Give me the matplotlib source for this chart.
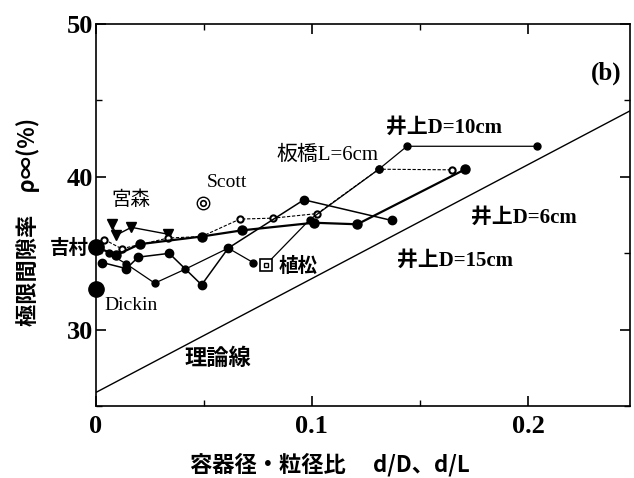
import matplotlib
matplotlib.use("Agg")
import matplotlib.pyplot as plt
from matplotlib.ticker import MultipleLocator

# ---- data ----
theory_x = [0.0, 0.247]
theory_y = [25.9, 44.3]

miyamori_x = [0.0073, 0.0096, 0.0165, 0.0335]
miyamori_y = [36.9, 36.2, 36.7, 36.25]

itabashi_x = [0.004, 0.012, 0.0335, 0.049, 0.0667, 0.082, 0.1025, 0.131, 0.165]
itabashi_y = [35.9, 35.3, 36.0, 36.1, 37.24, 37.3, 37.6, 40.5, 40.46]

inoue6_x = [0.0, 0.0096, 0.0204, 0.049, 0.0675, 0.101, 0.121, 0.171]
inoue6_y = [35.4, 34.9, 35.6, 36.1, 36.5, 37.0, 36.9, 40.5]

inoue15_x = [0.003, 0.0142, 0.0196, 0.034, 0.049, 0.0613, 0.0963, 0.137]
inoue15_y = [34.4, 34.0, 34.75, 35.0, 32.94, 35.34, 38.5, 37.15]

uematsu_x = [0.006, 0.0142, 0.0273, 0.0412, 0.0613, 0.0728]
uematsu_y = [35.0, 34.3, 33.05, 33.95, 35.34, 34.4]
uematsu_mark = (0.0787, 34.25)

inoue10_x = [0.0787, 0.099, 0.131, 0.144, 0.204]
inoue10_y = [34.25, 37.2, 40.5, 42.0, 42.0]

yoshimura = (0.0, 35.4)
dickin = (0.0, 32.7)
scott = (0.0497, 38.3)

x_ticks = [0, 0.1, 0.2]
x_ticklabels = ["0", "0.1", "0.2"]
y_ticks = [30, 40, 50]
y_ticklabels = ["30", "40", "50"]

# ---- figure ----
fig = plt.figure(figsize=(6.34, 4.78), dpi=100)
ax = fig.add_axes([0.151, 0.150, 0.842, 0.800])
ax.set_xlim(0, 0.247)
ax.set_ylim(25, 50)

serif = ["Liberation Serif", "Noto Sans CJK JP"]
cjk = ["Noto Sans CJK JP", "DejaVu Sans"]

ax.plot(theory_x, theory_y, color="black", lw=1.0)

ax.plot(miyamori_x, miyamori_y, color="black", lw=1.0, marker="v", ms=7)
ax.plot(itabashi_x, itabashi_y, color="black", lw=0.8, ls=(0, (3, 1.5)),
        marker="o", ms=4.5, mfc="white", mec="black", mew=1.5)
ax.plot(inoue6_x, inoue6_y, color="black", lw=1.6, marker="o", ms=6.5)
ax.plot(inoue15_x, inoue15_y, color="black", lw=1.1, marker="o", ms=6)
ax.plot(uematsu_x, uematsu_y, color="black", lw=0.9, marker="o", ms=5)
ax.plot(inoue10_x, inoue10_y, color="black", lw=0.9, marker="o", ms=5)
ax.plot([uematsu_mark[0]], [uematsu_mark[1]], marker="s", ms=8, mfc="white",
        mec="black", mew=1.2, ls="none")
ax.plot([uematsu_mark[0]], [uematsu_mark[1]], marker="s", ms=3.5, mfc="white",
        mec="black", mew=1.0, ls="none")

ax.plot([yoshimura[0]], [yoshimura[1]], marker="o", ms=11, color="black", clip_on=False, zorder=5)
ax.plot([dickin[0]], [dickin[1]], marker="o", ms=11, color="black", clip_on=False, zorder=5)
ax.plot([scott[0]], [scott[1]], marker="o", ms=9, mfc="white", mec="black", mew=1.0, ls="none")
ax.plot([scott[0]], [scott[1]], marker="o", ms=4, mfc="white", mec="black", mew=1.2, ls="none")

# annotations
ax.text(0.0165, 38.5, "宮森", family=cjk, fontsize=14, ha="center", va="center")
ax.text(0.0605, 39.6, "Scott", family=serif, fontsize=14, ha="center", va="center")
ax.text(0.0165, 31.6, "Dickin", family=serif, fontsize=14, ha="center", va="center")
ax.text(-0.003, 35.3, "吉村", family=cjk, fontsize=14, fontweight="bold", ha="right", va="center")
ax.text(0.0565, 28.15, "理論線", family=cjk, fontsize=16, fontweight="bold", ha="center", va="center")
ax.text(0.0845, 34.15, "植松", family=cjk, fontsize=14, fontweight="bold", ha="left", va="center")
ax.text(0.161, 43.2, "井上D=10cm", family=serif, fontsize=15, fontweight="bold", ha="center", va="center")
ax.text(0.107, 41.4, "板橋L=6cm", family=serif, fontsize=15, ha="center", va="center")
ax.text(0.198, 37.3, "井上D=6cm", family=serif, fontsize=15, fontweight="bold", ha="center", va="center")
ax.text(0.166, 34.5, "井上D=15cm", family=serif, fontsize=15, fontweight="bold", ha="center", va="center")
ax.text(0.236, 46.8, "(b)", family=serif, fontsize=18, fontweight="bold", ha="center", va="center")

# axes styling
for s in ax.spines.values():
    s.set_linewidth(1.2)
ax.set_xticks(x_ticks)
ax.set_xticklabels(x_ticklabels)
ax.set_yticks(y_ticks)
ax.set_yticklabels(y_ticklabels)
ax.xaxis.set_minor_locator(MultipleLocator(0.05))
ax.yaxis.set_minor_locator(MultipleLocator(5))
ax.tick_params(which="both", direction="in", top=True, right=True)
ax.tick_params(which="major", length=7, width=1.2, pad=6)
ax.tick_params(which="minor", length=4, width=1.0)
for lab in ax.get_xticklabels() + ax.get_yticklabels():
    lab.set_family("Liberation Serif")
    lab.set_fontsize(19)
    lab.set_fontweight("bold")
ax.tick_params(axis="y", pad=2)

fig.text(0.52, 0.028, "容器径・粒径比　 d/D、d/L", family=cjk, fontsize=16,
         fontweight="bold", ha="center", va="center")
fig.text(0.045, 0.535, "極限間隙率　ρ∞(%)", family=cjk, fontsize=16,
         fontweight="bold", ha="center", va="center", rotation=90)

fig.savefig("out.png", dpi=100)
